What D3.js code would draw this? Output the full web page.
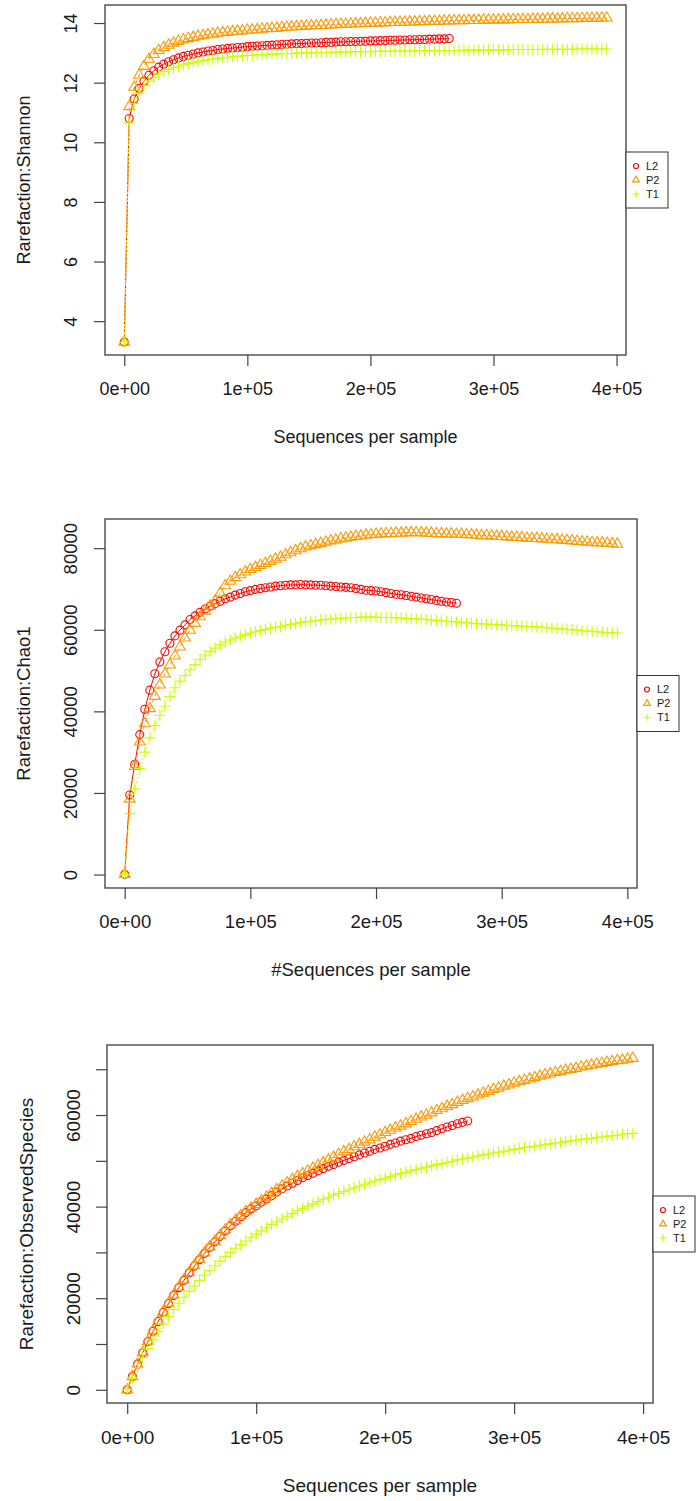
<!DOCTYPE html>
<html>
<head>
<meta charset="utf-8">
<style>
  body { margin: 0; background: #fff; }
  svg text { font-family: "Liberation Sans", Arial, sans-serif; fill: #1a1a1a; }
</style>
</head>
<body>
<svg id="chart" width="696" height="1501"></svg>
<script src="https://cdn.jsdelivr.net/npm/d3@7"></script>
<script>
// rarefaction depths, shared by all samples (L2 stops earlier)
const depths = [10, 4000, 8000, 12000, 16000, 20000, 24000, 28000, 32000, 36000,
  40000, 44000, 48000, 52000, 56000, 60000, 64000, 68000, 72000, 76000,
  80000, 84000, 88000, 92000, 96000, 100000, 104000, 108000, 112000, 116000,
  120000, 124000, 128000, 132000, 136000, 140000, 144000, 148000, 152000, 156000,
  160000, 164000, 168000, 172000, 176000, 180000, 184000, 188000, 192000, 196000,
  200000, 204000, 208000, 212000, 216000, 220000, 224000, 228000, 232000, 236000,
  240000, 244000, 248000, 252000, 256000, 260000, 264000, 268000, 272000, 276000,
  280000, 284000, 288000, 292000, 296000, 300000, 304000, 308000, 312000, 316000,
  320000, 324000, 328000, 332000, 336000, 340000, 344000, 348000, 352000, 356000,
  360000, 364000, 368000, 372000, 376000, 380000, 384000, 388000, 392000];

const samples = ["L2", "P2", "T1"];
const colors = { L2: "#ff0000", P2: "#ff9900", T1: "#ccff00" };

const shannonL2 = [3.30, 10.80, 11.45, 11.80, 12.05, 12.25, 12.40, 12.52, 12.62, 12.70,
  12.77, 12.83, 12.88, 12.92, 12.96, 13.00, 13.03, 13.06, 13.08, 13.11,
  13.13, 13.15, 13.16, 13.18, 13.19, 13.21, 13.22, 13.23, 13.24, 13.25,
  13.26, 13.27, 13.28, 13.29, 13.30, 13.31, 13.31, 13.32, 13.33, 13.33,
  13.34, 13.35, 13.35, 13.36, 13.37, 13.37, 13.38, 13.38, 13.39, 13.39,
  13.40, 13.40, 13.41, 13.41, 13.42, 13.42, 13.43, 13.43, 13.44, 13.44,
  13.45, 13.45, 13.46, 13.46, 13.47, 13.47, 13.48];
const shannonP2 = [3.30, 11.20, 11.85, 12.25, 12.55, 12.78, 12.95, 13.08, 13.18, 13.26,
  13.33, 13.39, 13.44, 13.48, 13.52, 13.56, 13.58, 13.61, 13.63, 13.66,
  13.68, 13.70, 13.71, 13.73, 13.74, 13.76, 13.77, 13.78, 13.80, 13.81,
  13.82, 13.83, 13.85, 13.86, 13.87, 13.88, 13.89, 13.90, 13.91, 13.91,
  13.92, 13.93, 13.94, 13.95, 13.96, 13.96, 13.97, 13.98, 13.98, 13.99,
  14.00, 14.00, 14.01, 14.01, 14.02, 14.02, 14.03, 14.03, 14.04, 14.04,
  14.05, 14.05, 14.06, 14.06, 14.06, 14.07, 14.07, 14.08, 14.08, 14.08,
  14.09, 14.09, 14.09, 14.10, 14.10, 14.10, 14.11, 14.11, 14.11, 14.12,
  14.12, 14.12, 14.12, 14.13, 14.13, 14.13, 14.14, 14.14, 14.14, 14.14,
  14.15, 14.15, 14.15, 14.16, 14.16, 14.16, 14.16, 14.17, 14.17];
const shannonT1 = [3.30, 10.65, 11.30, 11.65, 11.90, 12.05, 12.18, 12.28, 12.37, 12.44,
  12.50, 12.55, 12.60, 12.64, 12.68, 12.72, 12.74, 12.77, 12.79, 12.82,
  12.84, 12.85, 12.87, 12.88, 12.90, 12.91, 12.92, 12.93, 12.94, 12.95,
  12.96, 12.96, 12.97, 12.98, 12.98, 12.99, 12.99, 13.00, 13.00, 13.01,
  13.01, 13.01, 13.02, 13.02, 13.03, 13.03, 13.03, 13.04, 13.04, 13.04,
  13.04, 13.05, 13.05, 13.05, 13.05, 13.06, 13.06, 13.06, 13.06, 13.06,
  13.07, 13.07, 13.07, 13.07, 13.07, 13.08, 13.08, 13.08, 13.08, 13.09,
  13.09, 13.09, 13.09, 13.09, 13.10, 13.10, 13.10, 13.10, 13.10, 13.11,
  13.11, 13.11, 13.11, 13.11, 13.11, 13.12, 13.12, 13.12, 13.12, 13.12,
  13.12, 13.12, 13.13, 13.13, 13.13, 13.13, 13.13, 13.13, 13.13];

const chao1L2 = [50, 19500, 27000, 34300, 40500, 45200, 49200, 52100, 54600, 56700,
  58500, 59900, 61200, 62500, 63400, 64300, 65100, 65800, 66400, 67000,
  67600, 68000, 68500, 68900, 69300, 69600, 69900, 70100, 70300, 70500,
  70700, 70800, 70900, 71000, 71000, 71100, 71000, 71000, 70900, 70900,
  70800, 70700, 70600, 70500, 70400, 70300, 70100, 69900, 69700, 69600,
  69500, 69300, 69100, 68900, 68700, 68600, 68400, 68200, 68000, 67800,
  67600, 67400, 67200, 67000, 66800, 66700, 66500];
const chao1P2 = [50, 18500, 26500, 32500, 37000, 40700, 43700, 46500, 49200, 51400,
  53600, 55800, 58000, 59900, 61600, 63200, 64600, 65800, 67100, 69000,
  70800, 71900, 72800, 73500, 74200, 74800, 75300, 75800, 76300, 76800,
  77300, 77800, 78400, 78900, 79400, 79900, 80300, 80600, 80900, 81200,
  81500, 81800, 82000, 82300, 82500, 82700, 82900, 83000, 83200, 83300,
  83400, 83500, 83600, 83600, 83700, 83700, 83800, 83800, 83800, 83800,
  83700, 83700, 83600, 83600, 83500, 83500, 83400, 83400, 83300, 83300,
  83200, 83100, 83100, 83000, 82900, 82900, 82800, 82700, 82700, 82600,
  82500, 82400, 82400, 82300, 82200, 82100, 82100, 82000, 81900, 81800,
  81700, 81600, 81500, 81400, 81300, 81300, 81200, 81100, 81000];
const chao1T1 = [50, 15000, 21000, 26000, 30000, 33500, 36500, 39000, 41300, 43600,
  45800, 47400, 48800, 50200, 51400, 52700, 53800, 54700, 55500, 56300,
  57000, 57500, 58000, 58400, 58800, 59200, 59500, 59800, 60100, 60400,
  60600, 60800, 61100, 61300, 61500, 61800, 62000, 62100, 62200, 62400,
  62500, 62600, 62700, 62800, 62900, 63000, 63000, 63100, 63100, 63100,
  63100, 63000, 63000, 63000, 62900, 62900, 62800, 62700, 62700, 62600,
  62500, 62400, 62300, 62200, 62100, 62000, 61900, 61800, 61700, 61600,
  61500, 61400, 61400, 61300, 61200, 61200, 61100, 61000, 61000, 60900,
  60800, 60800, 60700, 60600, 60500, 60400, 60300, 60200, 60100, 60000,
  59900, 59800, 59700, 59600, 59500, 59400, 59300, 59200, 59200];

const obsL2 = [10, 2900, 5600, 8100, 10500, 12800, 14900, 16900, 18800, 20600,
  22300, 23900, 25500, 27000, 28400, 29800, 31100, 32300, 33500, 34700,
  35800, 36800, 37800, 38700, 39500, 40200, 41000, 41700, 42400, 43200,
  43900, 44500, 45100, 45700, 46300, 46800, 47300, 47800, 48300, 48800,
  49200, 49700, 50100, 50500, 50900, 51300, 51700, 52100, 52500, 52800,
  53200, 53600, 53900, 54300, 54600, 54900, 55300, 55600, 55900, 56200,
  56600, 57000, 57400, 57700, 58100, 58400, 58700];
const obsP2 = [10, 2900, 5600, 8150, 10600, 12900, 15000, 17000, 18900, 20700,
  22400, 24000, 25600, 27100, 28500, 29900, 31200, 32500, 33700, 34900,
  36000, 37000, 38000, 38900, 39700, 40500, 41300, 42100, 42900, 43700,
  44500, 45200, 45900, 46600, 47200, 47800, 48400, 49000, 49600, 50200,
  50800, 51400, 52000, 52500, 53100, 53600, 54100, 54600, 55200, 55700,
  56200, 56700, 57200, 57600, 58100, 58600, 59100, 59600, 60000, 60500,
  61000, 61400, 61900, 62300, 62800, 63200, 63600, 64000, 64400, 64800,
  65200, 65600, 65900, 66300, 66600, 67000, 67300, 67600, 67900, 68200,
  68500, 68800, 69000, 69300, 69500, 69800, 70000, 70200, 70500, 70700,
  70900, 71100, 71300, 71500, 71700, 71900, 72000, 72200, 72400];
const obsT1 = [10, 2500, 4800, 7000, 9000, 10900, 12700, 14400, 16000, 17500,
  18900, 20200, 21500, 22700, 23900, 25000, 26100, 27100, 28100, 29100,
  30000, 30900, 31700, 32500, 33300, 34000, 34700, 35400, 36100, 36700,
  37300, 37900, 38500, 39100, 39600, 40100, 40600, 41100, 41600, 42000,
  42500, 42900, 43300, 43700, 44100, 44500, 44900, 45200, 45600, 45900,
  46200, 46600, 46900, 47200, 47500, 47800, 48100, 48400, 48600, 48900,
  49200, 49400, 49700, 49900, 50200, 50400, 50600, 50800, 51100, 51300,
  51500, 51700, 51900, 52100, 52300, 52500, 52700, 52900, 53000, 53200,
  53400, 53600, 53700, 53900, 54000, 54200, 54400, 54500, 54700, 54800,
  54900, 55100, 55200, 55400, 55500, 55600, 55800, 55900, 56000];

const xTicks = [0, 100000, 200000, 300000, 400000];
const xTickLabels = ["0e+00", "1e+05", "2e+05", "3e+05", "4e+05"];
const shannonTicks = [4, 6, 8, 10, 12, 14];
const chao1Ticks = [0, 20000, 40000, 60000, 80000];
const obsTicks = [0, 10000, 20000, 30000, 40000, 50000, 60000, 70000];
const obsTickLabels = ["0", "", "20000", "", "40000", "", "60000", ""];

const panels = [
  { ylab: "Rarefaction:Shannon", xlab: "Sequences per sample",
    series: { L2: shannonL2, P2: shannonP2, T1: shannonT1 },
    yTicks: shannonTicks, yTickLabels: shannonTicks.map(String),
    left: 105, right: 626, top: 5, bottom: 355, font: 18 },
  { ylab: "Rarefaction:Chao1", xlab: "#Sequences per sample",
    series: { L2: chao1L2, P2: chao1P2, T1: chao1T1 },
    yTicks: chao1Ticks, yTickLabels: chao1Ticks.map(String),
    left: 105, right: 637, top: 519, bottom: 888, font: 18.5 },
  { ylab: "Rarefaction:ObservedSpecies", xlab: "Sequences per sample",
    series: { L2: obsL2, P2: obsP2, T1: obsT1 },
    yTicks: obsTicks, yTickLabels: obsTickLabels,
    left: 107, right: 653, top: 1045, bottom: 1403, font: 19 }
];

const svg = d3.select("#chart");
const RADIUS = 4;

function triangle(r) {
  const rr = 1.5551 * r, xc = 1.3468 * r, yc = 0.7775 * r;
  return `M0,${-rr}L${xc},${yc}L${-xc},${yc}Z`;
}
function plus(r) {
  const a = 1.4142 * r;
  return `M${-a},0H${a}M0,${-a}V${a}`;
}
function marker(sel, name, r) {
  if (name === "L2") sel.append("circle").attr("r", r);
  else if (name === "P2") sel.append("path").attr("d", triangle(r));
  else sel.append("path").attr("d", plus(r));
}
// R style 4% padding around the data range
function padded(values) {
  const [lo, hi] = d3.extent(values);
  const pad = (hi - lo) * 0.04;
  return [lo - pad, hi + pad];
}

for (const p of panels) {
  const allY = samples.flatMap(s => p.series[s]);
  const x = d3.scaleLinear().domain(padded([depths[0], depths[depths.length - 1]])).range([p.left, p.right]);
  const y = d3.scaleLinear().domain(padded(allY)).range([p.bottom, p.top]);
  const g = svg.append("g");

  // lines then points
  const dash = { L2: null, P2: "4,3", T1: "2,2" };
  for (const s of samples) {
    const pts = p.series[s].map((v, i) => [depths[i], v]);
    g.append("path")
      .datum(pts)
      .attr("fill", "none")
      .attr("stroke", colors[s])
      .attr("stroke-width", 1)
      .attr("stroke-dasharray", dash[s])
      .attr("d", d3.line().x(d => x(d[0])).y(d => y(d[1])));
    g.append("g").selectAll("g").data(pts).join("g")
      .attr("transform", d => `translate(${x(d[0])},${y(d[1])})`)
      .attr("fill", "none")
      .attr("stroke", colors[s])
      .attr("stroke-width", 1.1)
      .each(function () { marker(d3.select(this), s, RADIUS); });
  }

  // box
  g.append("rect")
    .attr("x", p.left).attr("y", p.top)
    .attr("width", p.right - p.left).attr("height", p.bottom - p.top)
    .attr("fill", "none").attr("stroke", "#555").attr("stroke-width", 1.5);

  // x axis
  const xa = g.append("g")
    .attr("transform", `translate(0,${p.bottom})`)
    .call(d3.axisBottom(x).tickValues(xTicks).tickFormat((d, i) => xTickLabels[i]).tickSize(11));
  xa.select(".domain").remove();
  xa.selectAll("line").attr("stroke", "#444").attr("stroke-width", 1.2);
  xa.selectAll("text")
    .attr("y", 34).attr("dy", "0.35em")
    .style("font-size", p.font + "px")
    .style("font-family", "Liberation Sans, Arial, sans-serif")
    .attr("fill", "#1a1a1a");

  // y axis, labels parallel to the axis
  const ya = g.append("g")
    .attr("transform", `translate(${p.left},0)`)
    .call(d3.axisLeft(y).tickValues(p.yTicks).tickFormat((d, i) => p.yTickLabels[i]).tickSize(11));
  ya.select(".domain").remove();
  ya.selectAll("line").attr("stroke", "#444").attr("stroke-width", 1.2);
  ya.selectAll("text")
    .attr("x", null).attr("dy", "0.35em")
    .attr("text-anchor", "middle")
    .attr("transform", "translate(-34,0) rotate(-90)")
    .style("font-size", p.font + "px")
    .style("font-family", "Liberation Sans, Arial, sans-serif")
    .attr("fill", "#1a1a1a");

  // axis titles
  g.append("text")
    .attr("x", (p.left + p.right) / 2).attr("y", p.bottom + 82).attr("dy", "0.35em")
    .attr("text-anchor", "middle").style("font-size", p.font + "px")
    .text(p.xlab);
  g.append("text")
    .attr("transform", `translate(${p.left - 81},${(p.top + p.bottom) / 2}) rotate(-90)`)
    .attr("dy", "0.35em")
    .attr("text-anchor", "middle").style("font-size", p.font + "px")
    .text(p.ylab);

  // legend
  const cy = (p.top + p.bottom) / 2;
  const lg = g.append("g").attr("transform", `translate(${p.right},${cy - 28})`);
  lg.append("rect").attr("width", 42).attr("height", 56)
    .attr("fill", "#fff").attr("stroke", "#333").attr("stroke-width", 1);
  samples.forEach((s, i) => {
    const row = lg.append("g").attr("transform", `translate(0,${14 + i * 14})`);
    row.append("g").attr("transform", "translate(10,0)")
      .attr("fill", "none").attr("stroke", colors[s]).attr("stroke-width", 1.2)
      .each(function () { marker(d3.select(this), s, 2.5); });
    row.append("text").attr("x", 20).attr("dy", "0.35em")
      .style("font-size", "11px").text(s);
  });
}
</script>
</body>
</html>
